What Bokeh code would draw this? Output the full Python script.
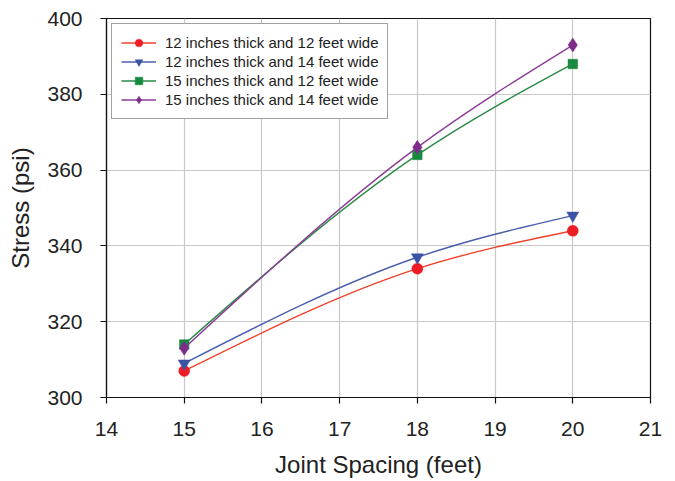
from bokeh.plotting import figure
from bokeh.models import Range1d, FixedTicker, Legend, LegendItem, ColumnDataSource
from bokeh.embed import file_html
from bokeh.resources import INLINE

# ---- data ----
joint_spacing = [15, 18, 20]
s_12in_12ft = [307, 334, 344]
s_12in_14ft = [309, 337, 348]
s_15in_12ft = [314, 364, 388]
s_15in_14ft = [313, 366, 393]

series_labels = [
    "12 inches thick and 12 feet wide",
    "12 inches thick and 14 feet wide",
    "15 inches thick and 12 feet wide",
    "15 inches thick and 14 feet wide",
]
x_ticks = [14, 15, 16, 17, 18, 19, 20, 21]
y_ticks = [300, 320, 340, 360, 380, 400]

colors = ["#ee1c25", "#3a53a4", "#178a3f", "#7d2b8b"]
line_colors = ["#f0402a", "#4a5fb0", "#2a8a46", "#8a3c96"]
markers = ["circle", "inverted_triangle", "square", "diamond"]
msizes = [11, 12, 9.5, 14]

FONT = "Liberation Sans"

p = figure(width=670, height=480, output_backend="svg", toolbar_location=None,
           x_range=Range1d(14, 21), y_range=Range1d(300, 400),
           min_border_left=106, min_border_top=18, min_border_right=20,
           min_border_bottom=83)
p.background_fill_color = "white"
p.border_fill_color = "white"
p.outline_line_color = "#111111"
p.outline_line_width = 1.2

p.xaxis.ticker = FixedTicker(ticks=x_ticks)
p.yaxis.ticker = FixedTicker(ticks=y_ticks)
for ax in (p.xaxis[0], p.yaxis[0]):
    ax.minor_tick_line_color = None
    ax.major_tick_in = 0
    ax.major_tick_out = 6
    ax.axis_line_color = "#111111"
    ax.major_tick_line_color = "#111111"
    ax.axis_line_width = 1.2
    ax.major_tick_line_width = 1.2
    ax.major_label_text_font = FONT
    ax.major_label_text_font_size = "21px"
    ax.major_label_text_color = "#222222"
    ax.axis_label_text_font = FONT
    ax.axis_label_text_font_size = "24px"
    ax.axis_label_text_font_style = "normal"
    ax.axis_label_text_color = "#222222"

p.xaxis.axis_label = "Joint Spacing (feet)"
p.yaxis.axis_label = "Stress (psi)"
p.xaxis.major_label_standoff = 18
p.xaxis.axis_label_standoff = 12
p.yaxis.major_label_standoff = 18
p.yaxis.axis_label_standoff = 10

p.grid.grid_line_color = "#c8c8c8"
p.grid.grid_line_width = 1.2


def natural_spline_beziers(xs, ys):
    """Cubic Bezier segments of a natural cubic spline through the points."""
    n = len(xs)
    h = [xs[i + 1] - xs[i] for i in range(n - 1)]
    s = [(ys[i + 1] - ys[i]) / h[i] for i in range(n - 1)]
    M = [0.0] * n
    if n > 2:
        a = [h[i - 1] for i in range(1, n - 1)]
        b = [2 * (h[i - 1] + h[i]) for i in range(1, n - 1)]
        c = [h[i] for i in range(1, n - 1)]
        d = [6 * (s[i] - s[i - 1]) for i in range(1, n - 1)]
        m = len(b)
        for i in range(1, m):
            w = a[i] / b[i - 1]
            b[i] -= w * c[i - 1]
            d[i] -= w * d[i - 1]
        sol = [0.0] * m
        sol[-1] = d[-1] / b[-1]
        for i in range(m - 2, -1, -1):
            sol[i] = (d[i] - c[i] * sol[i + 1]) / b[i]
        for i in range(m):
            M[i + 1] = sol[i]
    x0, y0, x1, y1, cx0, cy0, cx1, cy1 = [], [], [], [], [], [], [], []
    for i in range(n - 1):
        d0 = s[i] - h[i] * (2 * M[i] + M[i + 1]) / 6
        d1 = s[i] + h[i] * (M[i] + 2 * M[i + 1]) / 6
        x0.append(xs[i]); y0.append(ys[i])
        x1.append(xs[i + 1]); y1.append(ys[i + 1])
        cx0.append(xs[i] + h[i] / 3); cy0.append(ys[i] + d0 * h[i] / 3)
        cx1.append(xs[i + 1] - h[i] / 3); cy1.append(ys[i + 1] - d1 * h[i] / 3)
    return dict(x0=x0, y0=y0, x1=x1, y1=y1, cx0=cx0, cy0=cy0, cx1=cx1, cy1=cy1)


items = []
all_series = [s_12in_12ft, s_12in_14ft, s_15in_12ft, s_15in_14ft]
for vals, lab, col, lcol, mk, ms in zip(all_series, series_labels, colors,
                                          line_colors, markers, msizes):
    bz = p.bezier(source=ColumnDataSource(natural_spline_beziers(joint_spacing, vals)),
                  x0="x0", y0="y0", x1="x1", y1="y1",
                  cx0="cx0", cy0="cy0", cx1="cx1", cy1="cy1",
                  line_color=lcol, line_width=1.4)
    sc = p.scatter(joint_spacing, vals, marker=mk, size=ms,
                   fill_color=col, line_color=col, line_width=0.5)
    items.append(LegendItem(label=lab, renderers=[bz, sc]))

legend = Legend(items=items, location="top_left")
legend.margin = 5
legend.padding = 9
legend.spacing = 0
legend.label_height = 19
legend.glyph_height = 19
legend.glyph_width = 35
legend.label_standoff = 9
legend.label_text_font = FONT
legend.label_text_font_size = "15px"
legend.label_text_color = "#222222"
legend.border_line_color = "#444444"
legend.border_line_width = 1
legend.background_fill_color = "white"
legend.background_fill_alpha = 1
p.add_layout(legend, "center")

open("out.html", "w").write(file_html(p, INLINE))
